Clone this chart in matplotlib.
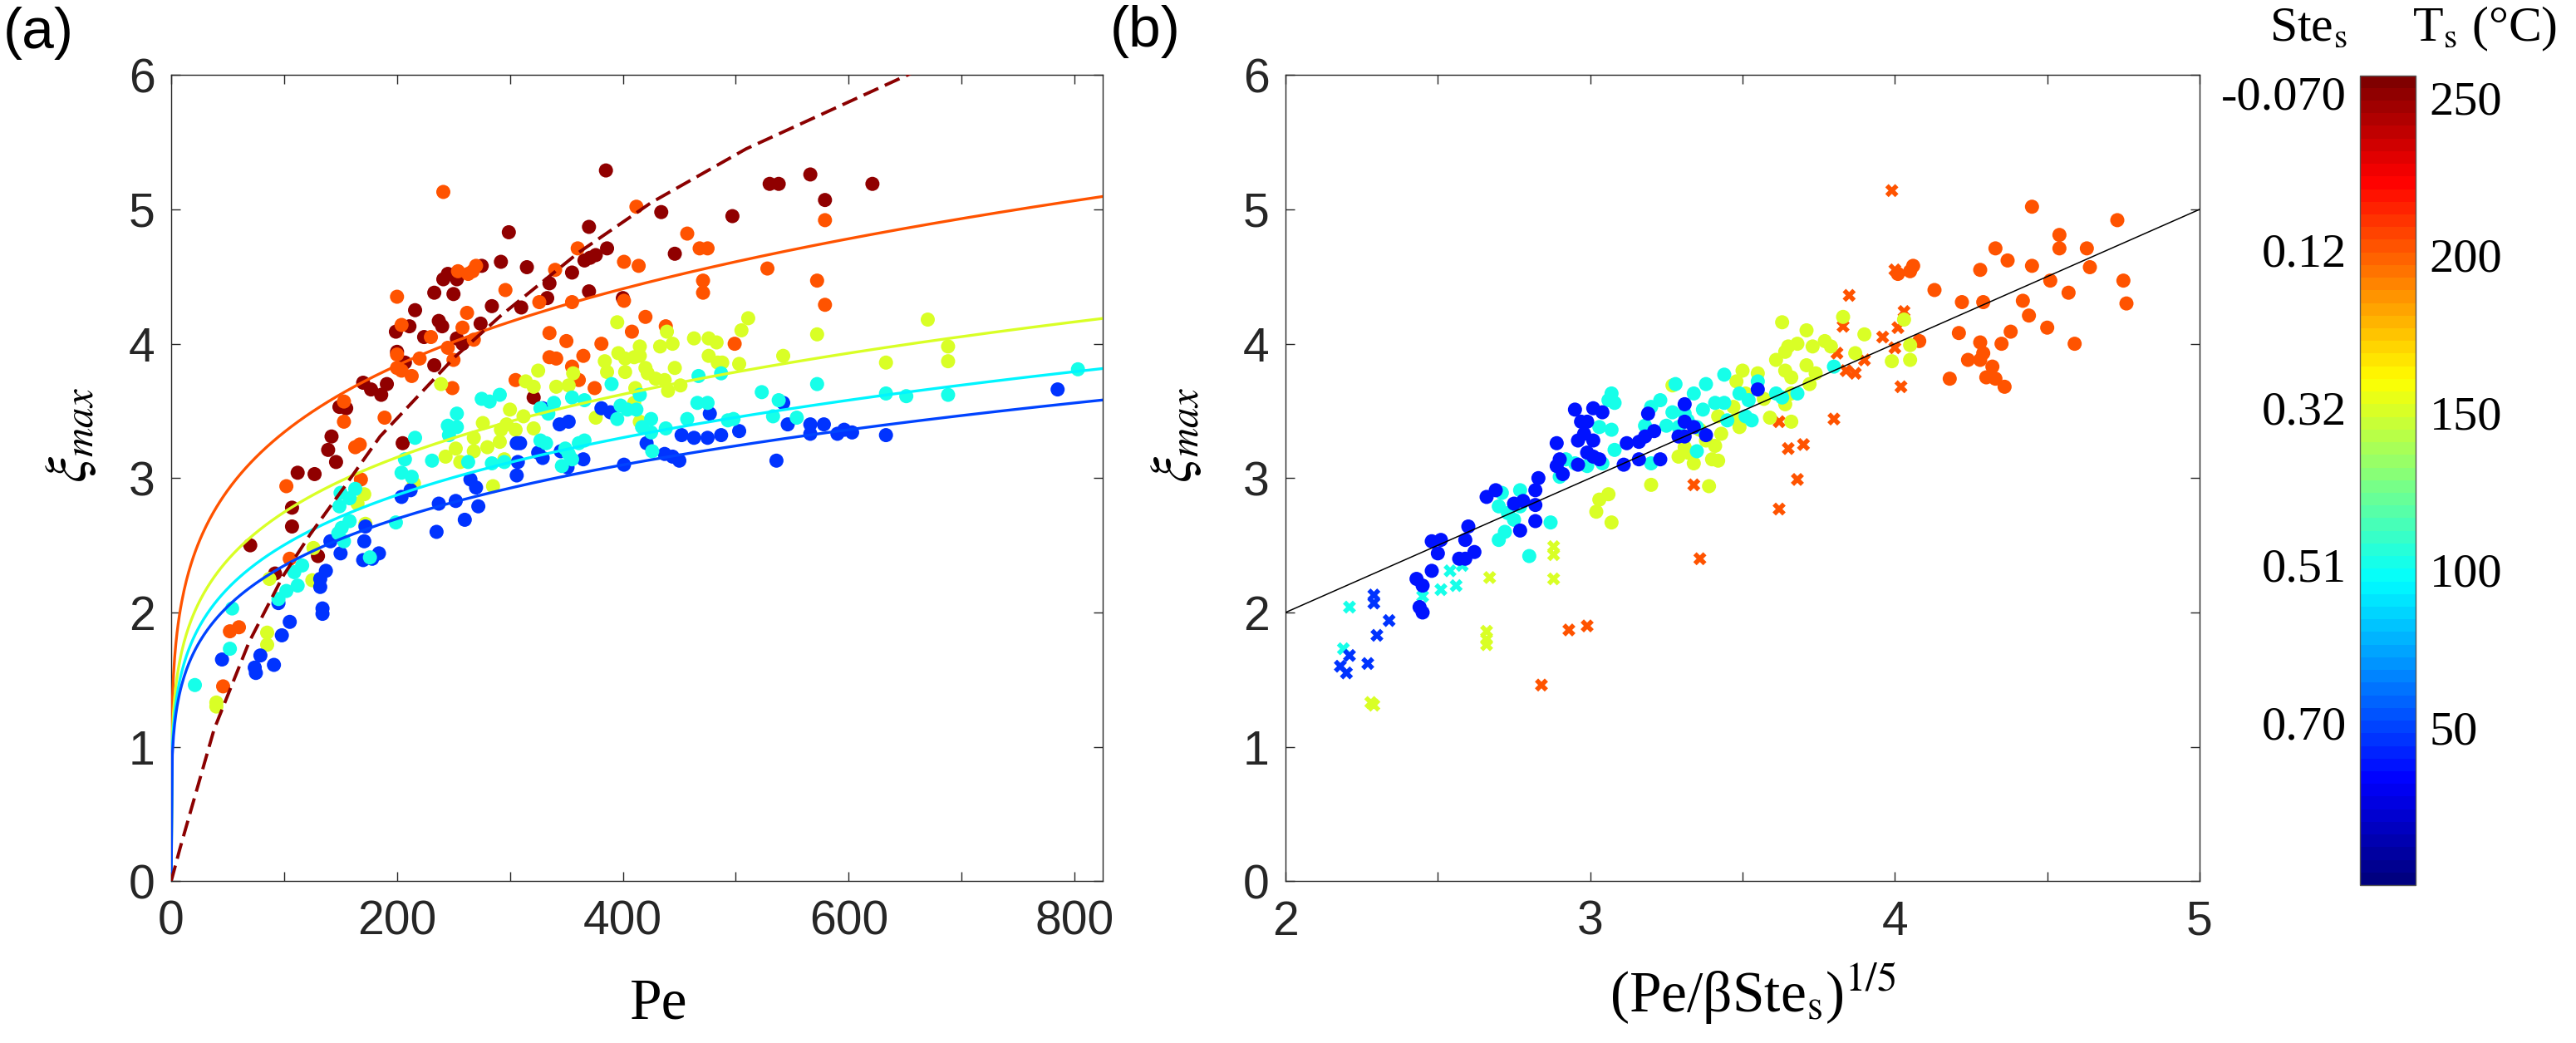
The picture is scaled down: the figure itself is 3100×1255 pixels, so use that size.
import numpy as np
import matplotlib
matplotlib.use("Agg")
import matplotlib.pyplot as plt
from matplotlib.colors import Normalize, LinearSegmentedColormap
from matplotlib.cm import ScalarMappable
from matplotlib.ticker import MultipleLocator
from matplotlib.transforms import blended_transform_factory

plt.rcParams['font.family'] = ['Liberation Sans', 'DejaVu Sans']
plt.rcParams['mathtext.fontset'] = 'stix'

# ---- colour scale (Ts, degC) ----
cb_ticks = [50, 100, 150, 200, 250]
ste_labels = ['0.70', '0.51', '0.32', '0.12', '-0.070']
ts_min, ts_max = 0, 257

# Ts of each group
ts_darkred, ts_orange, ts_yellow, ts_cyan, ts_blue = 252, 203, 150, 104, 46
ts_blue_b = 40

# ---- panel (a): Pe vs xi_max ----
pe_darkred = [142, 139, 146, 205, 112, 127, 107, 107, 70, 130, 92, 216, 233, 241, 245, 253, 250, 237, 240, 274,
              211, 199, 224, 253, 258, 200, 233, 207, 170, 177, 186, 191, 149, 155, 385, 530, 538, 434, 497, 299,
              370, 446, 366, 371, 376, 386, 292, 315, 275, 355, 335, 370, 333, 400, 310, 284, 321, 566, 621, 579]
xi_darkred = [3.31, 3.21, 3.12, 3.26, 3.04, 3.03, 2.78, 2.64, 2.50, 2.42, 2.29, 4.25, 4.38, 4.48, 4.52, 4.48, 4.37,
              4.17, 4.13, 4.15, 4.13, 4.09, 4.05, 4.04, 4.00, 3.94, 3.84, 3.86, 3.71, 3.66, 3.62, 3.70, 3.53, 3.52,
              5.29, 5.19, 5.19, 4.98, 4.95, 4.83, 4.87, 4.67, 4.62, 4.64, 4.66, 4.71, 4.61, 4.57, 4.58, 4.53, 4.45,
              4.39, 4.34, 4.34, 4.27, 4.28, 3.60, 5.26, 5.19, 5.07]

pe_orange = [241, 200, 254, 263, 267, 270, 262, 258, 204, 230, 268, 245, 200, 250, 220, 200, 204, 213, 153, 153,
             189, 249, 167, 163, 102, 168, 105, 52, 60, 46, 412, 457, 468, 475, 360, 401, 414, 340, 528, 471, 471,
             296, 401, 355, 326, 420, 408, 438, 335, 350, 381, 499, 335, 341, 365, 355, 361, 305, 375, 579, 572, 579]
xi_orange = [5.13, 4.35, 4.54, 4.52, 4.54, 4.58, 4.23, 4.12, 4.14, 4.05, 4.03, 3.97, 3.92, 3.88, 3.89, 3.82, 3.80,
             3.76, 3.57, 3.42, 3.45, 3.67, 3.25, 3.23, 2.94, 2.99, 2.40, 1.86, 1.89, 1.45, 5.02, 4.82, 4.71, 4.71,
             4.71, 4.61, 4.58, 4.55, 4.56, 4.47, 4.38, 4.40, 4.32, 4.31, 4.31, 4.20, 4.09, 4.13, 4.08, 4.02, 4.00,
             4.00, 3.90, 3.89, 3.91, 3.83, 3.73, 3.73, 3.67, 4.92, 4.47, 4.29]

pe_yellow = [239, 215, 243, 252, 256, 268, 268, 171, 165, 172, 126, 125, 87, 85, 85, 40, 40, 395, 439, 511, 505,
             463, 476, 483, 444, 433, 415, 396, 402, 410, 415, 384, 386, 402, 420, 422, 429, 446, 437, 440, 451,
             476, 484, 488, 503, 542, 325, 314, 321, 341, 356, 352, 411, 410, 300, 312, 276, 297, 305, 321, 292,
             376, 415, 295, 280, 291, 285, 670, 572, 688, 688, 633]
xi_yellow = [3.70, 2.96, 3.16, 3.22, 3.12, 3.20, 3.30, 2.88, 2.81, 2.66, 2.48, 2.24, 2.25, 1.85, 1.76, 1.33, 1.30,
             4.16, 4.09, 4.19, 4.10, 4.04, 4.04, 4.01, 4.00, 3.98, 3.98, 3.93, 3.89, 3.90, 3.91, 3.87, 3.79, 3.79,
             3.82, 3.78, 3.74, 3.82, 3.73, 3.65, 3.69, 3.91, 3.86, 3.86, 3.85, 3.91, 3.80, 3.72, 3.68, 3.68, 3.78,
             3.69, 3.67, 3.56, 3.51, 3.46, 3.41, 3.40, 3.36, 3.37, 3.36, 3.45, 3.42, 3.14, 3.23, 3.27, 2.94, 4.18,
             4.07, 3.98, 3.87, 3.86]

pe_cyan = [253, 245, 253, 216, 207, 204, 213, 231, 246, 263, 199, 150, 158, 163, 149, 158, 151, 148, 153, 176, 116,
           109, 112, 102, 95, 54, 52, 21, 275, 282, 291, 390, 467, 487, 415, 398, 404, 412, 355, 366, 339, 334, 327,
           395, 466, 475, 523, 538, 457, 493, 498, 533, 425, 417, 425, 438, 426, 349, 355, 346, 352, 327, 332, 361,
           366, 284, 295, 572, 803, 633, 651, 688, 554]
xi_cyan = [3.48, 3.39, 3.38, 3.30, 3.14, 3.04, 3.01, 3.13, 3.32, 3.12, 2.67, 2.89, 2.85, 2.92, 2.79, 2.68, 2.63,
           2.59, 2.53, 2.41, 2.35, 2.30, 2.20, 2.16, 2.10, 2.03, 1.73, 1.46, 3.59, 3.57, 3.62, 3.70, 3.76, 3.78, 3.62,
           3.54, 3.51, 3.51, 3.60, 3.58, 3.56, 3.48, 3.52, 3.44, 3.56, 3.56, 3.64, 3.58, 3.44, 3.43, 3.44, 3.46, 3.44,
           3.38, 3.34, 3.37, 3.20, 3.22, 3.14, 3.09, 3.18, 3.28, 3.26, 3.26, 3.28, 3.11, 3.12, 3.70, 3.81, 3.63, 3.61,
           3.62, 3.45]

pe_blue = [265, 270, 272, 204, 212, 237, 252, 260, 235, 172, 171, 150, 170, 184, 178, 141, 137, 132, 132, 134, 134,
           95, 105, 98, 79, 74, 75, 91, 45, 329, 381, 389, 352, 344, 477, 542, 546, 452, 463, 475, 487, 503, 536, 401,
           437, 444, 450, 421, 365, 345, 325, 329, 351, 306, 309, 307, 306, 785, 566, 578, 566, 590, 603, 596, 633]
xi_blue = [2.99, 2.93, 2.79, 2.86, 2.91, 2.81, 2.83, 2.69, 2.60, 2.64, 2.53, 2.44, 2.39, 2.44, 2.40, 2.53, 2.31, 2.25,
           2.19, 2.03, 1.99, 2.07, 1.93, 1.83, 1.68, 1.59, 1.55, 1.61, 1.65, 3.52, 3.52, 3.49, 3.42, 3.40, 3.48, 3.56,
           3.40, 3.32, 3.30, 3.30, 3.32, 3.35, 3.13, 3.10, 3.18, 3.16, 3.13, 3.26, 3.14, 3.20, 3.19, 3.15, 3.08, 3.26,
           3.26, 3.12, 3.02, 3.66, 3.40, 3.40, 3.33, 3.33, 3.34, 3.36, 3.32]

# fitted curves xi = (Pe / (beta*Ste))^(1/5)
beta = 2.0
fit_ste = [0.12, 0.32, 0.51, 0.70]
fit_ts = [201, 150, 96, 51]
# dashed curve (Ste < 0)
dash_pe = [0, 8, 38, 69, 99, 123, 153, 185, 251, 292, 361, 425, 509, 652, 700]
dash_xi = [0, 0.25, 1.13, 1.78, 2.27, 2.58, 2.93, 3.31, 3.90, 4.21, 4.68, 5.05, 5.45, 6.0, 6.2]

# ---- panel (b): (Pe/beta Ste)^(1/5) vs xi_max ; o = circles, x = crosses ----
xb_orange_o = [4.73, 4.45, 4.54, 4.54, 4.63, 4.64, 4.75, 4.76, 4.51, 4.57, 4.59, 4.50, 4.44, 4.42, 4.45, 4.37, 4.33,
               4.28, 4.29, 4.22, 4.21, 4.13, 4.38, 4.35, 4.28, 4.29, 4.28, 4.24, 4.32, 4.30, 4.33, 4.36, 4.18, 4.06,
               4.05, 4.01, 4.08]
yb_orange_o = [4.92, 5.02, 4.81, 4.71, 4.71, 4.57, 4.47, 4.30, 4.47, 4.38, 4.00, 4.12, 4.21, 4.32, 4.58, 4.62, 4.71,
               4.55, 4.31, 4.31, 4.08, 4.40, 4.09, 4.00, 4.01, 3.93, 3.88, 3.88, 3.83, 3.75, 3.74, 3.68, 3.74, 4.58,
               4.54, 4.52, 4.02]
xb_orange_x = [3.99, 4.00, 3.85, 3.83, 3.81, 3.96, 3.87, 3.84, 3.90, 4.01, 4.03, 4.00, 4.02, 3.80, 3.62, 3.65, 3.70,
               3.68, 3.62, 3.34, 3.36, 2.99, 2.93, 2.84]
yb_orange_x = [5.14, 4.55, 4.36, 4.13, 3.93, 4.05, 3.78, 3.80, 3.88, 4.12, 4.24, 3.97, 3.68, 3.44, 3.42, 3.22, 3.25,
               2.99, 2.77, 2.95, 2.40, 1.90, 1.87, 1.46]

xb_yellow_o = [3.63, 3.83, 4.03, 3.71, 3.90, 3.77, 3.79, 3.65, 3.68, 3.73, 3.61, 3.64, 3.99, 4.05, 4.05, 3.87, 3.50,
               3.55, 3.64, 3.66, 3.71, 3.74, 3.72, 3.66, 3.64, 3.57, 3.59, 3.66, 3.48, 3.49, 3.48, 3.42, 3.43, 3.38,
               3.41, 3.40, 3.36, 3.31, 3.29, 3.34, 3.32, 3.42, 3.27, 3.20, 3.39, 3.03, 3.02, 3.06, 3.07, 3.47, 3.51]
yb_yellow_o = [4.16, 4.20, 4.18, 4.10, 4.07, 4.02, 3.98, 3.98, 4.00, 3.98, 3.88, 3.94, 3.87, 3.99, 3.88, 3.93, 3.80,
               3.78, 3.80, 3.75, 3.84, 3.78, 3.70, 3.63, 3.55, 3.59, 3.45, 3.42, 3.72, 3.38, 3.44, 3.46, 3.33, 3.28,
               3.24, 3.14, 3.36, 3.23, 3.16, 3.11, 3.19, 3.13, 3.69, 2.95, 2.94, 2.84, 2.75, 2.88, 2.67, 3.53, 3.63]
xb_yellow_x = [2.88, 2.88, 2.88, 2.67, 2.66, 2.66, 2.66, 2.28, 2.29]
yb_yellow_x = [2.49, 2.43, 2.25, 2.26, 1.86, 1.80, 1.76, 1.33, 1.31]

xb_cyan_o = [3.28, 3.34, 3.38, 3.44, 3.44, 3.41, 3.37, 3.27, 3.31, 3.29, 3.35, 3.32, 3.23, 3.20, 3.18, 3.25, 3.20,
             3.35, 3.45, 3.07, 3.08, 3.06, 3.03, 3.07, 3.08, 3.04, 2.99, 2.95, 2.92, 2.90, 3.49, 3.52, 3.51, 3.53,
             3.55, 3.61, 3.68, 3.63, 3.80, 2.77, 2.71, 2.70, 2.77, 2.73, 2.75, 2.72, 2.70, 2.80, 2.87]
yb_cyan_o = [3.70, 3.63, 3.70, 3.77, 3.56, 3.56, 3.51, 3.49, 3.48, 3.38, 3.38, 3.43, 3.58, 3.53, 3.39, 3.39, 3.11,
             3.20, 3.43, 3.63, 3.56, 3.58, 3.38, 3.36, 3.21, 3.11, 3.09, 3.11, 3.14, 3.01, 3.63, 3.58, 3.46, 3.43,
             3.72, 3.63, 3.63, 3.60, 3.83, 2.91, 2.89, 2.79, 2.79, 2.74, 2.69, 2.60, 2.54, 2.42, 2.67]
xb_cyan_x = [2.21, 2.19, 2.54, 2.51, 2.56, 2.58, 2.45]
yb_cyan_x = [2.04, 1.73, 2.31, 2.17, 2.20, 2.35, 2.12]

xb_blue_o = [2.95, 3.01, 3.04, 2.97, 2.99, 2.98, 3.01, 2.96, 2.99, 3.01, 3.03, 2.96, 2.89, 2.90, 2.89, 2.91, 3.12,
             3.11, 3.16, 3.16, 3.18, 3.21, 3.19, 3.23, 3.31, 3.31, 3.34, 3.38, 3.29, 3.31, 3.55, 2.83, 2.82, 2.82,
             2.82, 2.77, 2.66, 2.69, 2.75, 2.78, 2.60, 2.59, 2.51, 2.48, 2.50, 2.62, 2.59, 2.57, 2.48, 2.43, 2.45,
             2.44, 2.45]
yb_blue_o = [3.51, 3.52, 3.49, 3.42, 3.42, 3.33, 3.28, 3.28, 3.19, 3.16, 3.14, 3.10, 3.26, 3.14, 3.09, 3.03, 3.26,
             3.10, 3.27, 3.14, 3.31, 3.35, 3.48, 3.14, 3.55, 3.42, 3.38, 3.32, 3.31, 3.31, 3.66, 3.00, 2.91, 2.80,
             2.68, 2.61, 2.86, 2.91, 2.81, 2.83, 2.64, 2.54, 2.54, 2.53, 2.44, 2.45, 2.40, 2.40, 2.31, 2.25, 2.20,
             2.04, 2.00]
xb_blue_x = [2.29, 2.29, 2.34, 2.30, 2.21, 2.27, 2.18, 2.20]
yb_blue_x = [2.13, 2.07, 1.94, 1.83, 1.68, 1.62, 1.60, 1.55]

# ---------------------------------------------------------------
W, H = 3100, 1255
fig = plt.figure(figsize=(W / 100, H / 100), dpi=100)
# MATLAB style jet, 64 levels
jet_nodes = [(0.0, (0, 0, 0.5)), (0.125, (0, 0, 1)), (0.375, (0, 1, 1)),
             (0.625, (1, 1, 0)), (0.875, (1, 0, 0)), (1.0, (0.5, 0, 0))]
cmap = LinearSegmentedColormap.from_list('mjet', jet_nodes, N=64)
norm = Normalize(ts_min, ts_max)
spine_c = '#262626'


def style_axes(ax):
    for s in ax.spines.values():
        s.set_color(spine_c)
        s.set_linewidth(1.0)
    ax.tick_params(which='both', direction='in', length=8, width=1.0, color=spine_c,
                   top=True, right=True, labelsize=41, labelcolor='#262626')
    ax.tick_params(axis='y', pad=14)
    ax.tick_params(axis='x', pad=16)
    ax.set_ylim(0, 6)
    ax.yaxis.set_major_locator(MultipleLocator(1))


ax1 = fig.add_axes([206 / W, 1 - 1060.3 / H, 1120.7 / W, 970 / H])
style_axes(ax1)
ax1.set_xlim(0, 824.7)
ax1.xaxis.set_major_locator(MultipleLocator(200))
ax1.xaxis.set_minor_locator(MultipleLocator(100))

groups_a = [(pe_darkred, xi_darkred, ts_darkred), (pe_orange, xi_orange, ts_orange),
            (pe_yellow, xi_yellow, ts_yellow), (pe_blue, xi_blue, ts_blue), (pe_cyan, xi_cyan, ts_cyan)]
for pe, xi, ts in groups_a:
    ax1.scatter(pe, xi, s=150, color=cmap(norm(ts)), edgecolors='none', zorder=2)

pe_line = np.linspace(0, 824.7, 800)
for ste, ts in zip(fit_ste, fit_ts):
    ax1.plot(pe_line, (pe_line / (beta * ste)) ** 0.2, color=cmap(norm(ts)), lw=2.4, zorder=3)
ax1.plot(dash_pe, dash_xi, color='#8b0000', lw=2.8, ls=(0, (5, 2.2)), zorder=3)

ax2 = fig.add_axes([1547 / W, 1 - 1060.3 / H, 1100 / W, 970 / H])
style_axes(ax2)
ax2.set_xlim(2, 5)
ax2.xaxis.set_major_locator(MultipleLocator(1))
ax2.xaxis.set_minor_locator(MultipleLocator(0.5))

groups_b = [(xb_orange_x, yb_orange_x, ts_orange, 'X'), (xb_yellow_x, yb_yellow_x, ts_yellow, 'X'),
            (xb_cyan_x, yb_cyan_x, ts_cyan, 'X'), (xb_blue_x, yb_blue_x, ts_blue, 'X'),
            (xb_orange_o, yb_orange_o, ts_orange, 'o'), (xb_yellow_o, yb_yellow_o, ts_yellow, 'o'),
            (xb_cyan_o, yb_cyan_o, ts_cyan, 'o'), (xb_blue_o, yb_blue_o, ts_blue_b, 'o')]
for xb, yb, ts, mk in groups_b:
    ax2.scatter(xb, yb, s=150 if mk == 'o' else 130, marker=mk, color=cmap(norm(ts)),
                edgecolors='none', zorder=2)
xl = np.array([2, 5])
ax2.plot(xl, xl, color='black', lw=1.1, zorder=3)

# axis labels
serif = ['Liberation Serif', 'DejaVu Serif']
fig.text(86 / W, 1 - 524 / H, r'$\xi_{max}$', rotation=90, ha='center', va='center', fontsize=50)
fig.text(1416 / W, 1 - 524 / H, r'$\xi_{max}$', rotation=90, ha='center', va='center', fontsize=50)
fig.text(793 / W, 1 - 1209 / H, 'Pe', ha='center', va='center', fontsize=50, family=serif)
fig.text(2109 / W, 1 - 1196 / H, r'(Pe/βSte$_{\rm s}$)$^{\rm 1/5}$', ha='center', va='center',
         fontsize=50, family=serif)
fig.text(4 / W, 1 - 40 / H, '(a)', ha='left', va='center', fontsize=50)
fig.text(1336 / W, 1 - 38 / H, '(b)', ha='left', va='center', fontsize=50)

# colour bar with two scales
cax = fig.add_axes([2840 / W, 1 - 1065 / H, 67 / W, 974.5 / H])
sm = ScalarMappable(norm=norm, cmap=cmap)
cb = fig.colorbar(sm, cax=cax)
cb.set_ticks(cb_ticks)
cb.ax.tick_params(length=0, pad=12, labelsize=42)
for t in cb.ax.get_yticklabels():
    t.set_fontfamily(serif)
cb.outline.set_edgecolor('#555555')
cb.outline.set_linewidth(1.0)
tr = blended_transform_factory(cax.transAxes, cax.transData)
for v, lab in zip(cb_ticks, ste_labels):
    cax.text(-0.24, v, lab, transform=tr, ha='right', va='center', fontsize=42, family=serif)
fig.text(2778 / W, 1 - 35 / H, r'Ste$_{\rm s}$', ha='center', va='center', fontsize=43, family=serif)
fig.text(2990 / W, 1 - 35 / H, r'T$_{\rm s}$ (°C)', ha='center', va='center', fontsize=43, family=serif)

fig.savefig('out.png', dpi=100)
